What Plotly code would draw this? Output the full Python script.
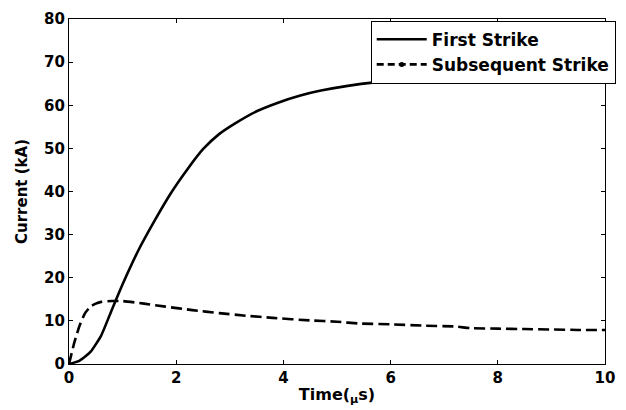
import plotly.graph_objects as go

# Data
t_first = [0, 0.2, 0.4, 0.6, 0.8, 1.0, 1.3, 1.6, 1.9, 2.2, 2.5, 2.8, 3.1, 3.5, 3.9,
           4.3, 4.7, 5.2, 5.7, 6.2, 6.8, 7.4, 8.0, 8.6, 9.2, 9.6, 10]
i_first = [0, 0.8, 2.8, 6.6, 12.6, 18.5, 26.5, 33.3, 39.6, 45.0, 49.8, 53.3, 55.8,
           58.6, 60.6, 62.2, 63.4, 64.5, 65.3, 65.8, 66.3, 66.6, 66.7, 66.7, 66.6, 66.4, 66.3]

t_sub = [0, 0.1, 0.2, 0.3, 0.4, 0.5, 0.6, 0.8, 1.0, 1.4, 1.8, 2.3, 2.8, 3.3, 3.8,
         4.5, 5.0, 5.4, 6.0, 6.6, 7.2, 7.5, 8.0, 8.5, 9.0, 9.5, 10]
i_sub = [0, 5.0, 9.0, 11.8, 13.3, 14.0, 14.4, 14.6, 14.6, 14.0, 13.3, 12.5, 11.8,
         11.2, 10.7, 10.1, 9.8, 9.4, 9.2, 8.9, 8.7, 8.3, 8.2, 8.1, 8.0, 7.9, 7.9]

x_ticks = [0, 2, 4, 6, 8, 10]
y_ticks = [0, 10, 20, 30, 40, 50, 60, 70, 80]

FONT = "DejaVu Sans"

fig = go.Figure()
fig.add_trace(go.Scatter(x=t_first, y=i_first, mode="lines", name="<b>First Strike</b>",
                         line=dict(color="black", width=2.6, shape="spline", smoothing=0.5)))
fig.add_trace(go.Scatter(x=t_sub, y=i_sub, mode="lines", name="<b>Subsequent Strike</b>",
                         showlegend=False,
                         line=dict(color="black", width=2.6, dash="11px,5px",
                                   shape="spline", smoothing=0.5)))
# legend-only entry (dashed line with dot marker as in the reference legend)
fig.add_trace(go.Scatter(x=[None], y=[None], mode="lines+markers",
                         name="<b>Subsequent Strike</b>",
                         line=dict(color="black", width=2.6, dash="7px,4px"),
                         marker=dict(color="black", size=5)))

axis_common = dict(
    showline=True, linecolor="black", linewidth=1.2, mirror="ticks",
    ticks="inside", ticklen=4, tickcolor="black", tickwidth=1,
    showgrid=False, zeroline=False,
    tickfont=dict(family=FONT, size=15, color="black"),
)

fig.update_layout(
    width=626, height=410,
    margin=dict(l=69, r=10, t=15, b=45),
    paper_bgcolor="white", plot_bgcolor="white",
    font=dict(family=FONT, color="black"),
    xaxis=dict(range=[0, 10], tickvals=x_ticks,
               ticktext=["<b>%d</b>" % v for v in x_ticks],
               title=dict(text="<b>Time(<sub>μ</sub>s)</b>", standoff=2,
                          font=dict(family=FONT, size=16, color="black")),
               **axis_common),
    yaxis=dict(range=[0, 80], tickvals=y_ticks,
               ticktext=["<b>%d</b>" % v for v in y_ticks],
               title=dict(text="<b>Current (kA)</b>", standoff=12,
                          font=dict(family=FONT, size=15, color="black")),
               **axis_common),
    legend=dict(x=1.02, y=0.995, xanchor="right", yanchor="top",
                bgcolor="white", bordercolor="black", borderwidth=1,
                font=dict(family=FONT, size=17, color="black"),
                tracegroupgap=0, itemwidth=50),
    showlegend=True,
)

fig.write_html("out.html")
